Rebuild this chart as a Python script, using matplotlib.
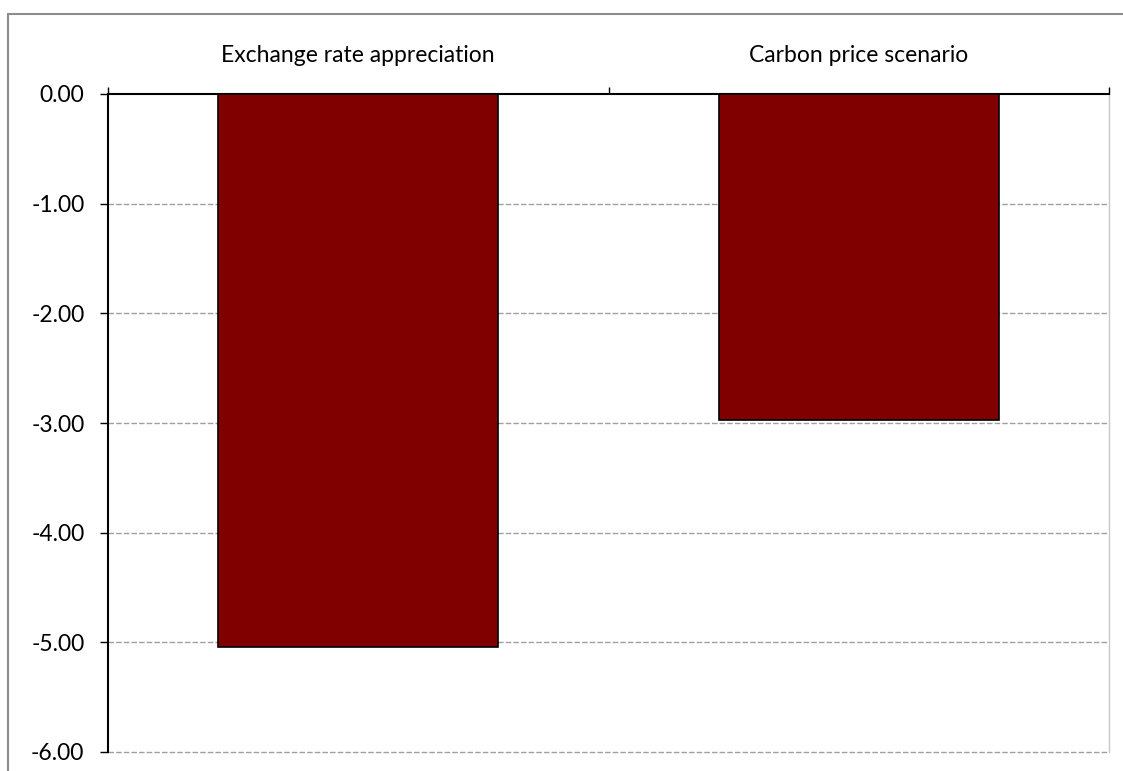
import matplotlib
matplotlib.use("Agg")
import matplotlib.pyplot as plt
from matplotlib.patches import Rectangle

categories = ["Exchange rate appreciation", "Carbon price scenario"]
values = [-5.04, -2.97]
yticks = [0.0, -1.0, -2.0, -3.0, -4.0, -5.0, -6.0]

plt.rcParams["font.family"] = ["Lato", "DejaVu Sans"]

W, H = 1123, 771
fig = plt.figure(figsize=(W / 100, H / 100), dpi=100)
fig.patch.set_facecolor("white")

# outer chart frame
fig.add_artist(Rectangle((8 / W, -0.05), 1.2, (H - 14) / H + 0.05,
                         transform=fig.transFigure, fill=False,
                         edgecolor="#8c8c8c", linewidth=1.5))

ax = fig.add_axes([108 / W, (H - 752) / H, (1109 - 108) / W, (752 - 94) / H])
x = [0.5, 1.5]
ax.bar(x, values, width=0.56, color="#800000", edgecolor="black",
       linewidth=1.2, zorder=3)

ax.set_xlim(0, 2)
ax.set_ylim(-6, 0)
ax.set_yticks(yticks)
ax.set_yticklabels([f"{v:.2f}" for v in yticks], fontsize=16.5)
for v in yticks[1:]:
    ax.axhline(v, color="#a0a0a0", linestyle=(0, (4, 1.5)), linewidth=1.0,
               zorder=0, clip_on=False)

ax.xaxis.set_ticks_position("top")
ax.set_xticks([0, 1, 2])
ax.set_xticklabels([])
ax.tick_params(axis="x", direction="out", length=5, width=1, color="black")
ax.tick_params(axis="y", direction="out", length=6, width=1, color="black", pad=11)

for xi, lab in zip(x, categories):
    ax.text(xi, 1.059, lab, transform=ax.get_xaxis_transform(),
            ha="center", va="center", fontsize=16.5)

ax.spines["top"].set_color("black")
ax.spines["top"].set_linewidth(1.5)
ax.spines["left"].set_color("black")
ax.spines["left"].set_linewidth(1.5)
ax.spines["right"].set_color("#c8c8c8")
ax.spines["right"].set_linewidth(1.0)
ax.spines["bottom"].set_visible(False)

fig.savefig("out.png", dpi=100, facecolor="white")
